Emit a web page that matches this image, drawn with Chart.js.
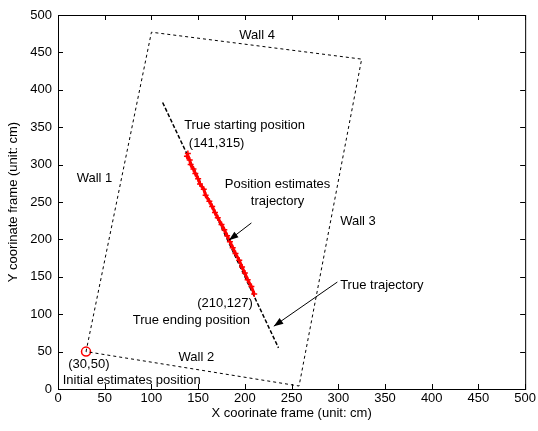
<!DOCTYPE html>
<html>
<head>
<meta charset="utf-8">
<script src="https://cdn.jsdelivr.net/npm/chart.js@4"></script>
<style>
  html, body { margin: 0; padding: 0; background: #fff; }
</style>
</head>
<body>
<canvas id="myChart" width="538" height="431"></canvas>
<script>
// walls of the room (closed polygon), cm
const wallX = [30, 100, 325, 258, 30];
const wallY = [50, 477, 441, 4, 50];

// true trajectory
const trueX = [112, 236];
const trueY = [383, 55];

// position estimates
const estX = [139, 138, 141, 142, 145, 147, 150, 152, 156, 158, 162, 165, 168, 171, 175, 178, 181, 184, 187, 190, 194, 197, 200, 203, 207, 210];
const estY = [315, 311, 306, 300, 294, 288, 281, 274, 267, 259, 251, 244, 236, 229, 220, 213, 205, 197, 189, 181, 172, 163, 155, 146, 137, 127];

// initial estimate
const initX = [30];
const initY = [50];

const xTicks = [0, 50, 100, 150, 200, 250, 300, 350, 400, 450, 500];
const yTicks = [0, 50, 100, 150, 200, 250, 300, 350, 400, 450, 500];

// text notes: [text, x, y, align]
const notes = [
    ['Wall 4', 194, 473, 'left'],
    ['Wall 1', 20, 282, 'left'],
    ['Wall 3', 302, 224, 'left'],
    ['Wall 2', 129, 42, 'left'],
    ['True starting position', 135, 353, 'left'],
    ['(141,315)', 140, 328, 'left'],
    ['Position estimates', 235, 273, 'center'],
    ['trajectory', 235, 251, 'center'],
    ['True trajectory', 302, 139, 'left'],
    ['(210,127)', 149, 115, 'left'],
    ['True ending position', 80, 92, 'left'],
    ['(30,50)', 11, 33, 'left'],
    ['Initial estimates position', 5, 11, 'left']
];

// arrows: [tailX, tailY, headX, headY]
const arrows = [
    [207, 222, 183, 199],
    [299, 143, 231, 84]
];

const FONT = '"Liberation Sans", Arial, sans-serif';

function pts(xs, ys) {
    return xs.map((x, i) => ({x: x, y: ys[i]}));
}

const boxPlugin = {
    id: 'box',
    afterDraw(chart) {
        const ctx = chart.ctx;
        const a = chart.chartArea;
        const xs = chart.scales.x, ys = chart.scales.y;
        ctx.save();
        ctx.strokeStyle = '#000';
        ctx.lineWidth = 1;
        ctx.strokeRect(a.left + 0.5, a.top + 0.5, a.right - a.left, a.bottom - a.top);
        // inner ticks on all four sides
        ctx.beginPath();
        xTicks.forEach(v => {
            const px = Math.round(xs.getPixelForValue(v)) + 0.5;
            ctx.moveTo(px, a.bottom); ctx.lineTo(px, a.bottom - 5);
            ctx.moveTo(px, a.top); ctx.lineTo(px, a.top + 5);
        });
        yTicks.forEach(v => {
            const py = Math.round(ys.getPixelForValue(v)) + 0.5;
            ctx.moveTo(a.left, py); ctx.lineTo(a.left + 5, py);
            ctx.moveTo(a.right, py); ctx.lineTo(a.right - 5, py);
        });
        ctx.stroke();

        // notes
        ctx.fillStyle = '#000';
        ctx.font = '13px ' + FONT;
        ctx.textBaseline = 'middle';
        notes.forEach(n => {
            ctx.textAlign = n[3];
            ctx.fillText(n[0], xs.getPixelForValue(n[1]), ys.getPixelForValue(n[2]));
        });

        // arrows
        arrows.forEach(ar => {
            const x1 = xs.getPixelForValue(ar[0]), y1 = ys.getPixelForValue(ar[1]);
            const x2 = xs.getPixelForValue(ar[2]), y2 = ys.getPixelForValue(ar[3]);
            const ang = Math.atan2(y2 - y1, x2 - x1);
            ctx.beginPath();
            ctx.moveTo(x1, y1); ctx.lineTo(x2, y2);
            ctx.stroke();
            ctx.beginPath();
            ctx.moveTo(x2, y2);
            ctx.lineTo(x2 - 10 * Math.cos(ang - 0.35), y2 - 10 * Math.sin(ang - 0.35));
            ctx.lineTo(x2 - 10 * Math.cos(ang + 0.35), y2 - 10 * Math.sin(ang + 0.35));
            ctx.closePath();
            ctx.fill();
        });
        ctx.restore();
    }
};

const ctx = document.getElementById('myChart').getContext('2d');
const chart = new Chart(ctx, {
    type: 'scatter',
    data: {
        datasets: [
            {
                label: 'Walls',
                data: pts(wallX, wallY),
                showLine: true,
                borderColor: '#000',
                borderWidth: 1,
                borderDash: [3, 3],
                pointRadius: 0
            },
            {
                label: 'Position estimates',
                data: pts(estX, estY),
                showLine: true,
                borderColor: '#ff0000',
                borderWidth: 3,
                pointStyle: 'cross',
                pointRadius: 3,
                pointBorderColor: '#ff0000',
                pointBorderWidth: 1.5
            },
            {
                label: 'True trajectory',
                data: pts(trueX, trueY),
                showLine: true,
                borderColor: '#000',
                borderWidth: 1.5,
                borderDash: [4, 2],
                pointRadius: 0
            },
            {
                label: 'Initial estimate',
                data: pts(initX, initY),
                showLine: false,
                pointStyle: 'circle',
                pointRadius: 4.5,
                pointBorderColor: '#ff0000',
                pointBackgroundColor: 'rgba(0,0,0,0)',
                pointBorderWidth: 1.5
            }
        ]
    },
    options: {
        responsive: false,
        animation: false,
        events: [],
        layout: { padding: { top: 15, right: 9, left: 0, bottom: 0 } },
        plugins: {
            legend: { display: false },
            tooltip: { enabled: false }
        },
        scales: {
            x: {
                type: 'linear',
                min: 0, max: 500,
                afterFit: s => { s.height = 42; },
                afterBuildTicks: s => { s.ticks = xTicks.map(v => ({value: v})); },
                grid: { display: false, drawTicks: false },
                border: { display: false },
                ticks: { color: '#000', font: { family: FONT, size: 13 }, padding: 2, maxRotation: 0 },
                title: {
                    display: true,
                    text: 'X coorinate frame (unit: cm)',
                    color: '#000',
                    font: { family: FONT, size: 13 },
                    padding: { top: 0, bottom: 10 }
                }
            },
            y: {
                type: 'linear',
                min: 0, max: 500,
                afterFit: s => { s.width = 58; },
                afterBuildTicks: s => { s.ticks = yTicks.map(v => ({value: v})); },
                grid: { display: false, drawTicks: false },
                border: { display: false },
                ticks: { color: '#000', font: { family: FONT, size: 13 }, padding: 6 },
                title: {
                    display: true,
                    text: 'Y coorinate frame (unit: cm)',
                    color: '#000',
                    font: { family: FONT, size: 13 },
                    padding: { top: 6, bottom: 0 }
                }
            }
        }
    },
    plugins: [boxPlugin]
});
</script>
</body>
</html>
